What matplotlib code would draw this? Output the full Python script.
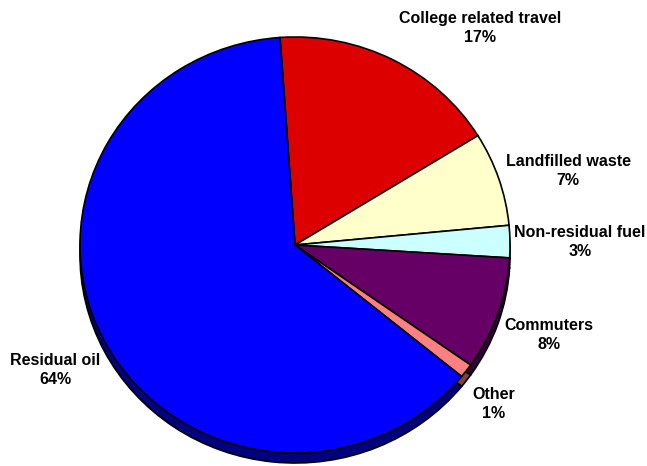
import matplotlib
matplotlib.use("Agg")
import matplotlib.pyplot as plt

# --- data ---
categories = ["College related travel", "Landfilled waste", "Non-residual fuel",
              "Commuters", "Other", "Residual oil"]
shares = [17.3, 7.3, 2.5, 8.8, 1.1, 63.0]
pct_labels = ["17%", "7%", "3%", "8%", "1%", "64%"]

top_colors = ["#DD0000", "#FFFFCC", "#CCFFFF", "#660066", "#FF8080", "#0000FF"]
side_colors = ["#700000", "#808066", "#668080", "#330033", "#804040", "#000080"]

# label centres in pixels (x, y from top)
label_pos = [(480, 28), (568, 171), (580, 242), (549, 335), (494, 404), (55, 370)]

W, H = 647, 466
cx, cy = 295, 245       # pie centre in pixels
rx, ry = 215, 208       # ellipse radii in pixels
depth = 10

fig = plt.figure(figsize=(W / 100, H / 100), dpi=100)
ax = fig.add_axes([0, 0, 1, 1])

# side (3d depth) drawn as a shifted darker pie
ax.pie(shares, colors=side_colors, startangle=94, counterclock=False,
       radius=1, center=(0, -depth / ry), frame=True,
       wedgeprops=dict(edgecolor="black", linewidth=1.2))
# top surface
ax.pie(shares, colors=top_colors, startangle=94, counterclock=False,
       radius=1, center=(0, 0), frame=True,
       wedgeprops=dict(edgecolor="black", linewidth=1.2))

ax.set_xlim(-cx / rx, (W - cx) / rx)
ax.set_ylim(-(H - cy) / ry, cy / ry)
ax.set_aspect("auto")
ax.axis("off")

for name, pct, (px, py) in zip(categories, pct_labels, label_pos):
    fig.text(px / W, 1 - py / H, name + "\n" + pct, ha="center", va="center",
             fontsize=11.5, fontweight="bold", family="Liberation Sans",
             linespacing=1.3)

fig.savefig("out.png", dpi=100)
